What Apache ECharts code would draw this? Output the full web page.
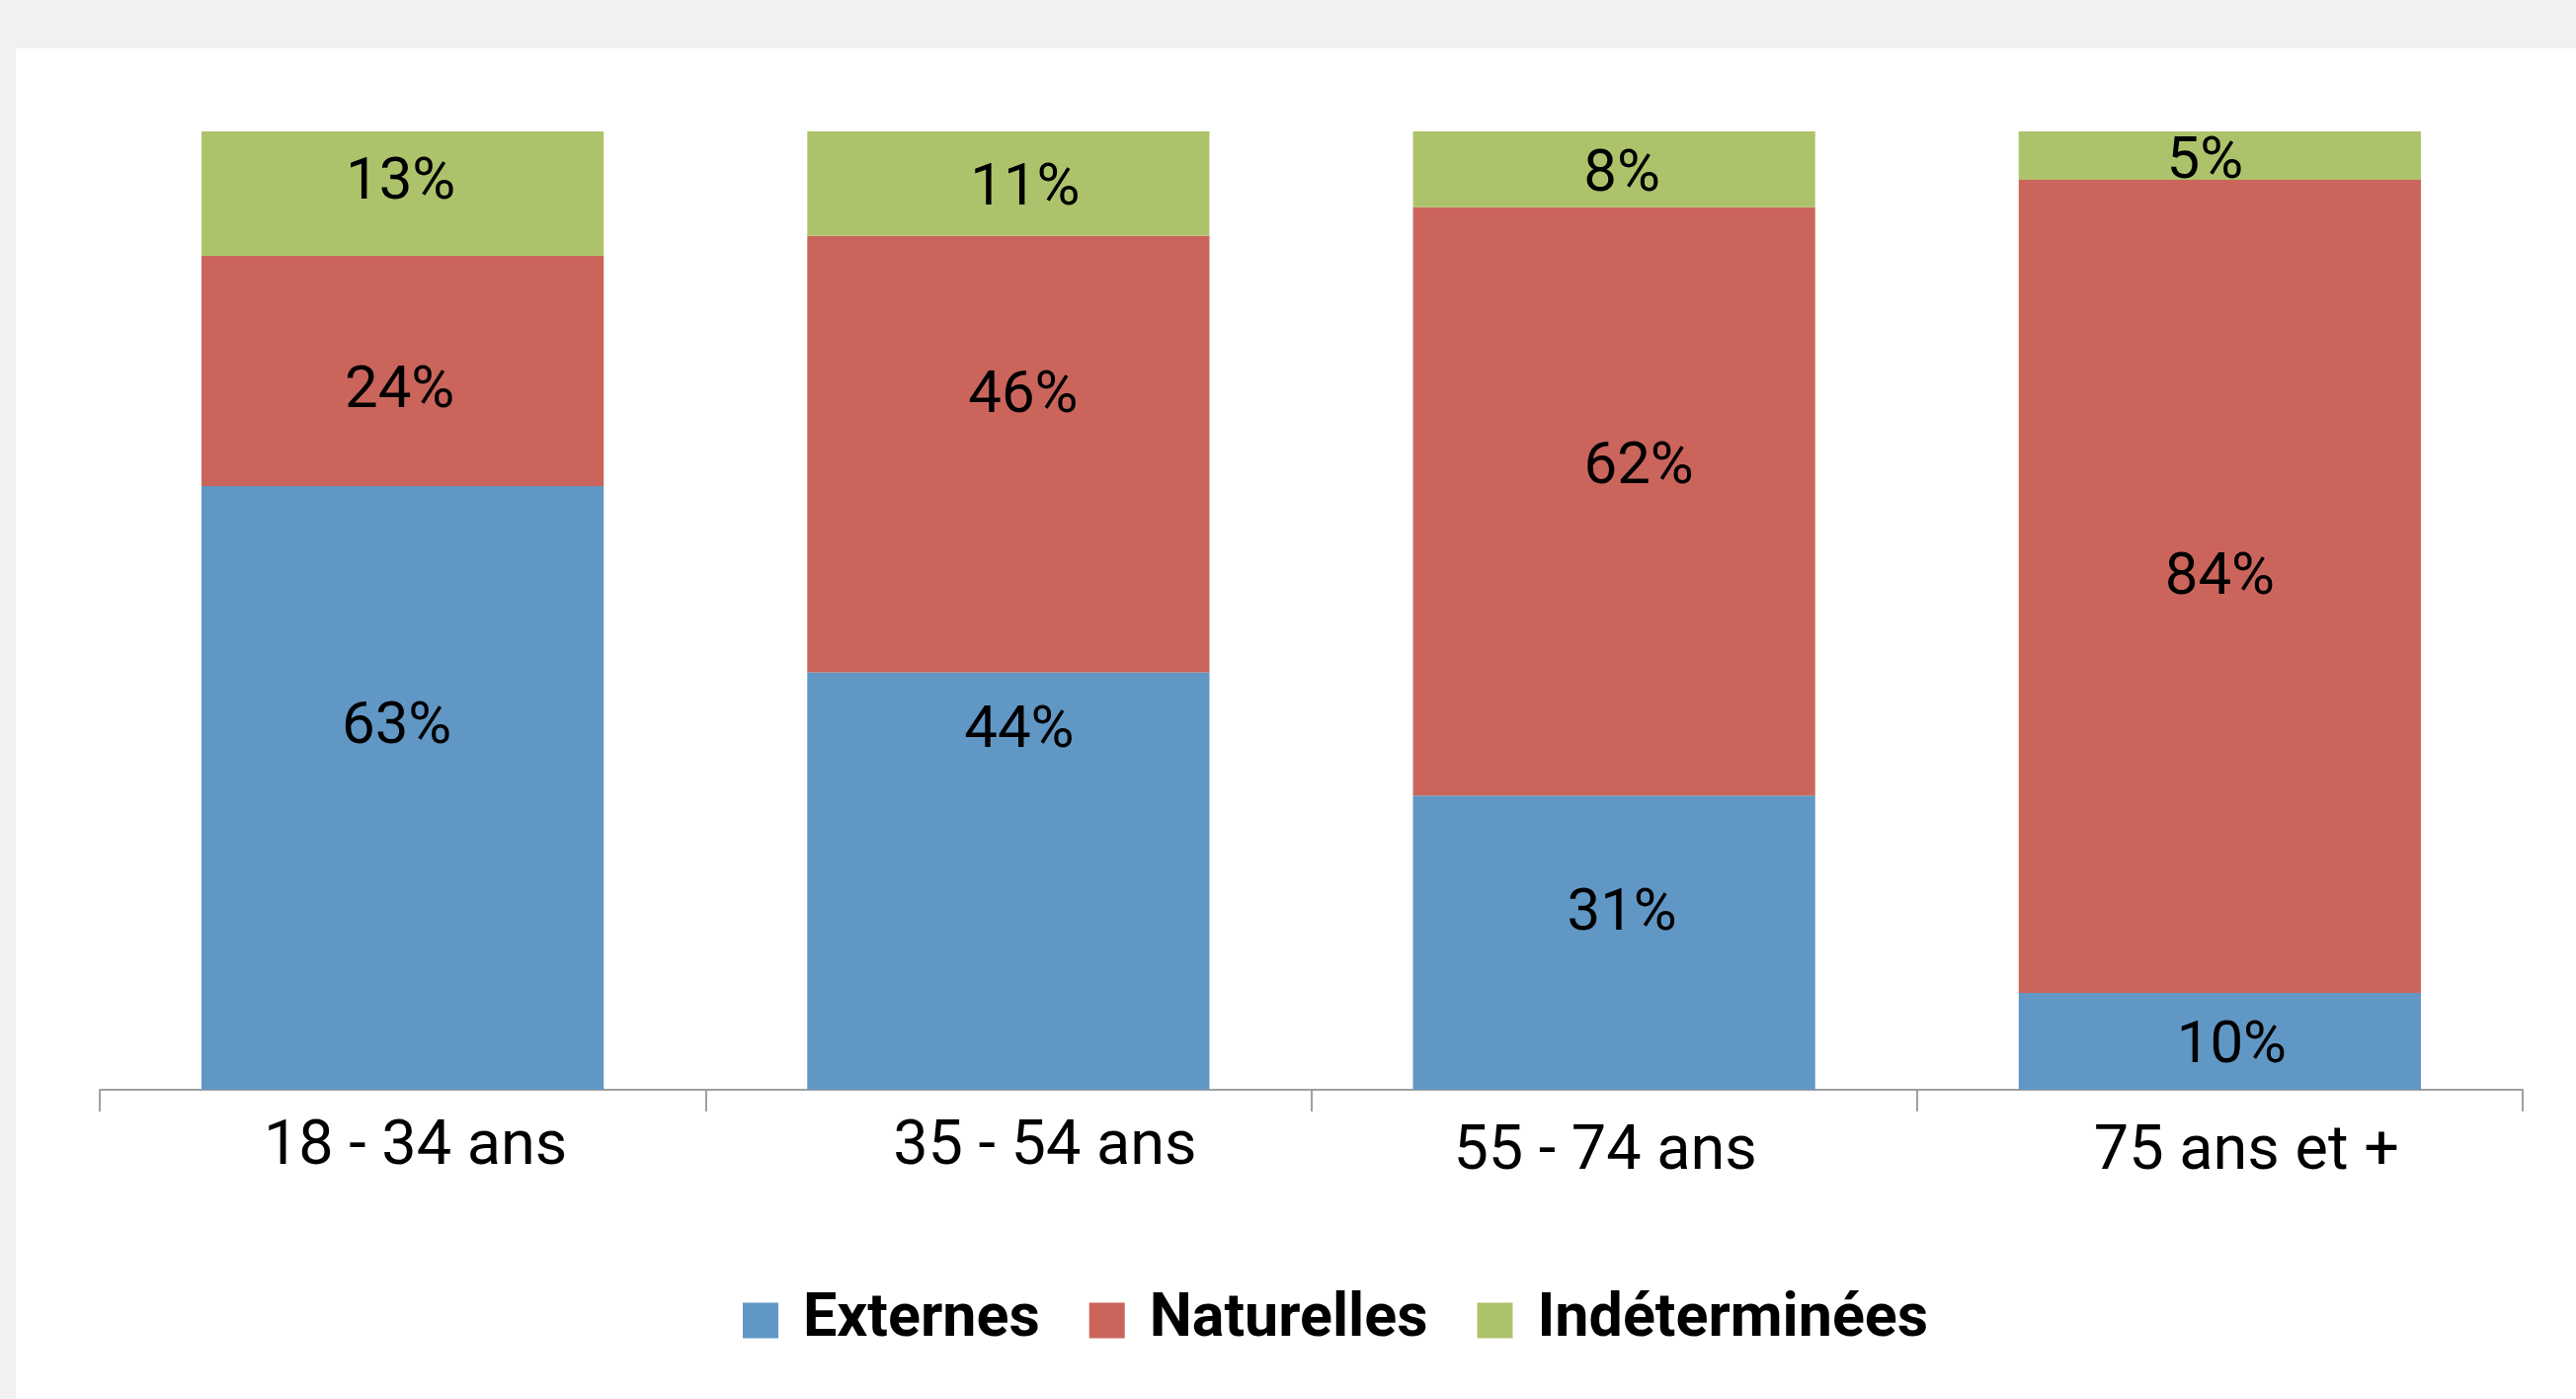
<!DOCTYPE html>
<html>
<head>
<meta charset="utf-8">
<script src="https://cdn.jsdelivr.net/npm/echarts@6/dist/echarts.min.js"></script>
<style>
  html, body { margin: 0; padding: 0; width: 2608px; height: 1416px; overflow: hidden; background: #f0f1f0; }
  #chart { position: absolute; left: 16px; top: 49px; width: 2592px; height: 1367px; background: #ffffff; }
</style>
</head>
<body>
<div id="chart"></div>
<script>
// Age groups and the share of each cause, in percent (rounded, as labelled)
const categories = ['18 - 34 ans', '35 - 54 ans', '55 - 74 ans', '75 ans et +'];
const externes = [63, 44, 31, 10];
const naturelles = [24, 46, 62, 84];
const indeterminees = [13, 11, 8, 5];
const seriesNames = ['Externes', 'Naturelles', 'Indéterminées'];

// Presentation settings
const colors = ['#6197c5', '#cb655c', '#adc36b'];
// Hand-placed nudges [dx, dy] (px) for the value labels: one row per series, one pair per age group
const labelNudges = [
  [[-6, -60], [11, -151], [8, -28], [12, 6]],
  [[-3, 21], [15, -58], [25, -34], [0, -8]],
  [[-2, -10], [17, 6], [8, 7], [-15, 8]]
];
// Nudges [dx, dy] (px) for the category labels under the axis
const axisLabelNudges = [[13, 0], [37, 0], [-9, 5], [27, 5]];

const FONT = 'Roboto, "Noto Sans", sans-serif';

const shares = [externes, naturelles, indeterminees];
// 100 % stacked columns: every column is scaled to its own total
const totals = categories.map((_, i) => shares.reduce((s, arr) => s + arr[i], 0));

function buildSeries(values, si) {
  return {
    name: seriesNames[si],
    type: 'bar',
    stack: 'total',
    barCategoryGap: '33.6%',
    itemStyle: { color: colors[si] },
    emphasis: { disabled: true },
    label: {
      show: true,
      position: 'inside',
      formatter: (p) => values[p.dataIndex] + '%',
      fontFamily: FONT,
      fontSize: 60,
      color: '#000000'
    },
    data: values.map((v, i) => ({
      value: v / totals[i] * 100,
      label: { offset: labelNudges[si][i] }
    }))
  };
}

// Per-category rich styles: padding shifts each label by its nudge
const axisRich = {};
axisLabelNudges.forEach(([dx, dy], i) => {
  axisRich['c' + i] = {
    fontFamily: FONT,
    fontSize: 63,
    color: '#000000',
    padding: [Math.max(dy, 0), dx < 0 ? -2 * dx : 0, 0, dx > 0 ? 2 * dx : 0]
  };
});

const chart = echarts.init(document.getElementById('chart'), null, { renderer: 'canvas' });
chart.setOption({
  animation: false,
  backgroundColor: '#ffffff',
  grid: { left: 85, right: 54, top: 84, bottom: 313, containLabel: false },
  legend: {
    data: seriesNames,
    left: 736,
    top: 1257,
    padding: 0,
    itemWidth: 36,
    itemHeight: 36,
    itemGap: 50,
    icon: 'rect',
    selectedMode: false,
    textStyle: { fontFamily: FONT, fontSize: 61, fontWeight: 'bold', color: '#000000', padding: [0, 0, 0, 20] }
  },
  xAxis: {
    type: 'category',
    data: categories,
    axisLine: { lineStyle: { color: '#a0a0a0', width: 2 } },
    axisTick: { show: true, interval: 0, length: 22, lineStyle: { color: '#a0a0a0', width: 2 } },
    axisLabel: {
      interval: 0,
      margin: 28,
      formatter: (value, index) => '{c' + index + '|' + value + '}',
      rich: axisRich
    }
  },
  yAxis: {
    type: 'value',
    min: 0,
    max: 100,
    show: false,
    splitLine: { show: false }
  },
  series: [
    buildSeries(externes, 0),
    buildSeries(naturelles, 1),
    buildSeries(indeterminees, 2)
  ]
});
</script>
</body>
</html>
